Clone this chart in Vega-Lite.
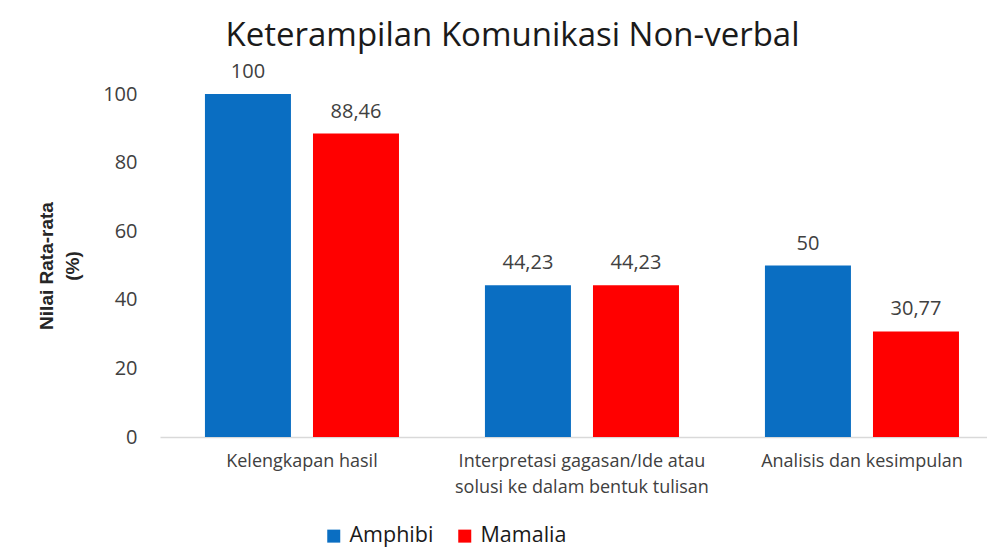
{
  "$schema": "https://vega.github.io/schema/vega-lite/v6.json",
  "width": 827,
  "height": 343,
  "autosize": "none",
  "padding": {"left": 160, "top": 94, "right": 0, "bottom": 112},
  "background": "white",
  "config": {
    "view": {"stroke": null},
    "font": "Open Sans",
    "locale": {"number": {"decimal": ",", "thousands": ".", "grouping": [3], "currency": ["Rp", ""]}}
  },
  "title": {
    "text": "Keterampilan Komunikasi Non-verbal",
    "font": "Open Sans",
    "fontSize": 33,
    "fontWeight": "normal",
    "color": "#1a1a1a",
    "anchor": "middle",
    "dx": -61,
    "offset": 9
  },
  "data": {
    "values": [
      {"aspek": "Kelengkapan hasil", "kelompok": "Amphibi", "nilai": 100},
      {"aspek": "Kelengkapan hasil", "kelompok": "Mamalia", "nilai": 88.46},
      {"aspek": "Interpretasi gagasan/Ide atau solusi ke dalam bentuk tulisan", "kelompok": "Amphibi", "nilai": 44.23},
      {"aspek": "Interpretasi gagasan/Ide atau solusi ke dalam bentuk tulisan", "kelompok": "Mamalia", "nilai": 44.23},
      {"aspek": "Analisis dan kesimpulan", "kelompok": "Amphibi", "nilai": 50},
      {"aspek": "Analisis dan kesimpulan", "kelompok": "Mamalia", "nilai": 30.77}
    ]
  },
  "encoding": {
    "x": {
      "field": "aspek",
      "type": "nominal",
      "sort": null,
      "scale": {"paddingInner": 0.307, "paddingOuter": 0.1303, "align": 0.616},
      "axis": {
        "title": null,
        "labelAngle": 0,
        "labelFont": "Open Sans",
        "labelFontSize": 18,
        "labelColor": "#404040",
        "labelLineHeight": 26,
        "labelPadding": 15,
        "labelLimit": 400,
        "ticks": false,
        "domainColor": "#d9d9d9",
        "domainWidth": 1.5,
        "labelExpr": "datum.label === 'Interpretasi gagasan/Ide atau solusi ke dalam bentuk tulisan' ? ['Interpretasi gagasan/Ide atau', 'solusi ke dalam bentuk tulisan'] : datum.label"
      }
    },
    "xOffset": {
      "field": "kelompok",
      "type": "nominal",
      "scale": {"paddingInner": 0.204, "paddingOuter": 0}
    },
    "y": {
      "field": "nilai",
      "type": "quantitative",
      "scale": {"domain": [0, 100], "nice": false},
      "axis": {
        "title": ["Nilai Rata-rata", "(%)"],
        "titleFont": "Liberation Sans",
        "titleFontWeight": "bold",
        "titleFontSize": 19,
        "titleColor": "#262626",
        "titleLineHeight": 26,
        "titlePadding": 20,
        "values": [0, 20, 40, 60, 80, 100],
        "labelFont": "Open Sans",
        "labelFontSize": 20,
        "labelColor": "#404040",
        "labelPadding": 23,
        "ticks": false,
        "domain": false,
        "grid": false
      }
    }
  },
  "layer": [
    {
      "mark": {"type": "bar"},
      "encoding": {
        "color": {
          "field": "kelompok",
          "type": "nominal",
          "scale": {"domain": ["Amphibi", "Mamalia"], "range": ["#0A6EC2", "#FF0000"]},
          "legend": {
            "title": null,
            "orient": "none",
            "direction": "horizontal",
            "legendX": 163,
            "legendY": 431,
            "symbolType": "square",
            "symbolSize": 169,
            "symbolStrokeWidth": 0,
            "labelFont": "Open Sans",
            "labelFontSize": 21.5,
            "labelColor": "#1a1a1a",
            "labelOffset": 5,
            "columnPadding": 20
          }
        }
      }
    },
    {
      "mark": {"type": "text", "baseline": "alphabetic", "dy": -16, "fontSize": 20, "font": "Open Sans", "color": "#404040"},
      "encoding": {
        "text": {"field": "nilai", "type": "quantitative", "format": ".2~f"}
      }
    }
  ]
}
